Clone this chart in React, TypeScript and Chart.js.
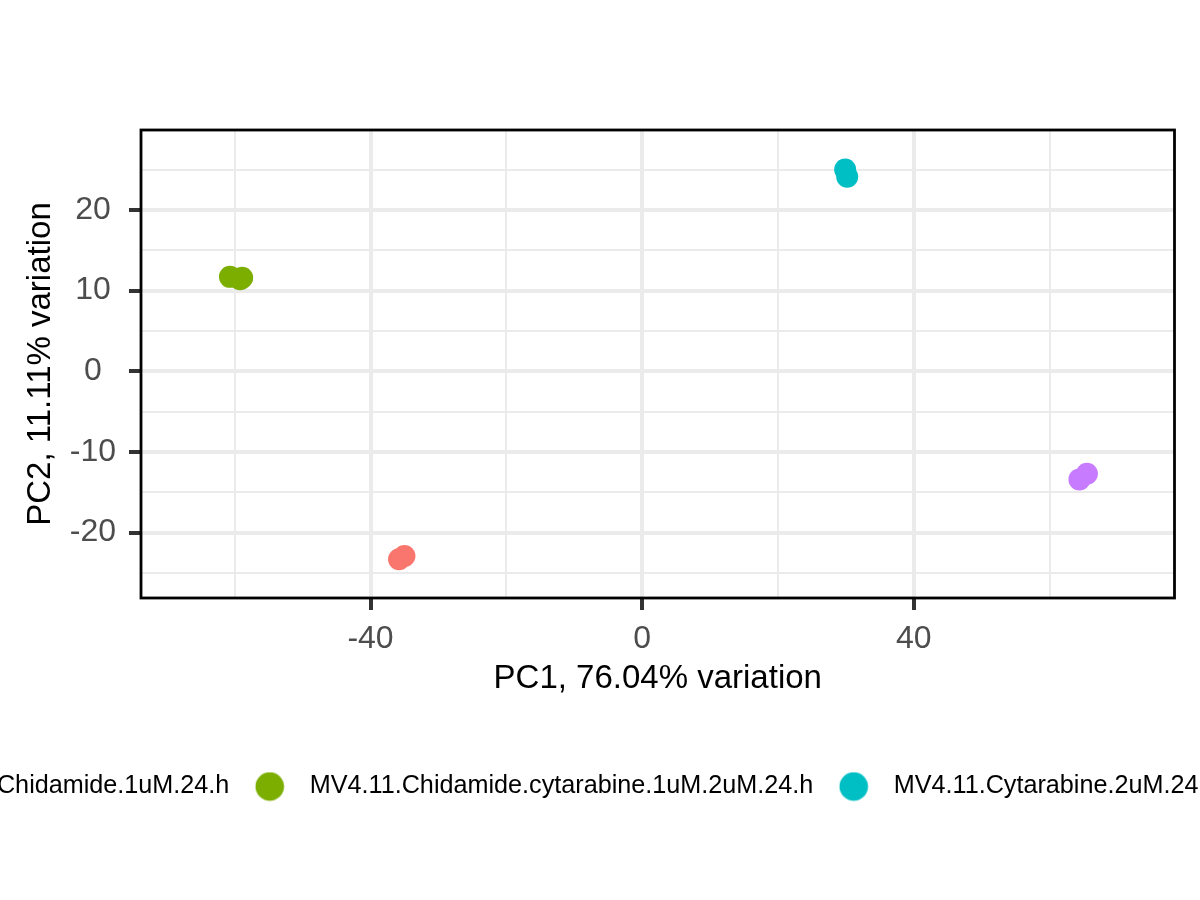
import { useEffect, useRef } from 'react';
import { Chart, registerables } from 'chart.js';

Chart.register(...registerables);

const FONT = "'Liberation Sans', Arial, sans-serif";

// groups (legend order) and ggplot default hues
const groups = [
  'MV4.11.Chidamide.1uM.24.h',
  'MV4.11.Chidamide.cytarabine.1uM.2uM.24.h',
  'MV4.11.Cytarabine.2uM.24.h',
  'MV4.11.DMSO.24.h',
];
const colors = ['#F8766D', '#7CAE00', '#00BFC4', '#C77CFF'];

// PC1 / PC2 scores per sample
const chidamidePC1 = [-35.8, -35.0];
const chidamidePC2 = [-23.3, -22.9];
const comboPC1 = [-60.7, -59.2, -58.9];
const comboPC2 = [11.7, 11.4, 11.6];
const cytarabinePC1 = [29.9, 30.2];
const cytarabinePC2 = [25.0, 24.1];
const dmsoPC1 = [64.4, 65.5];
const dmsoPC2 = [-13.4, -12.7];

const xTitle = 'PC1, 76.04% variation';
const yTitle = 'PC2, 11.11% variation';
const xRange = [-73.8, 78.4];
const yRange = [-28.1, 29.9];

const pcs = [
  [chidamidePC1, chidamidePC2],
  [comboPC1, comboPC2],
  [cytarabinePC1, cytarabinePC2],
  [dmsoPC1, dmsoPC2],
];

// canvas is wider than the page so the legend runs off both edges like the original
const SHIFT = 200;
const WIDTH = 1825;
const HEIGHT = 900;

function legendDot(color: string) {
  const c = document.createElement('canvas');
  c.width = 30;
  c.height = 30;
  const g = c.getContext('2d')!;
  g.fillStyle = color;
  g.beginPath();
  g.arc(15, 15, 14.3, 0, Math.PI * 2);
  g.fill();
  return c;
}

const framePlugin = {
  id: 'frame',
  afterDraw(chart: Chart) {
    const { ctx, chartArea: a } = chart;
    ctx.save();
    ctx.strokeStyle = '#000000';
    ctx.lineWidth = 2.8;
    ctx.strokeRect(a.left, a.top, a.right - a.left, a.bottom - a.top);
    ctx.restore();
  },
};

export default function App() {
  const canvasRef = useRef<HTMLCanvasElement>(null);

  useEffect(() => {
    if (!canvasRef.current) return;
    const isMajorX = (v: number) => v % 40 === 0;
    const isMajorY = (v: number) => v % 10 === 0;

    const chart = new Chart(canvasRef.current, {
      type: 'scatter',
      data: {
        datasets: groups.map((label, i) => ({
          label,
          data: pcs[i][0].map((x, j) => ({ x, y: pcs[i][1][j] })),
          backgroundColor: colors[i],
          borderColor: colors[i],
          borderWidth: 0,
          pointRadius: 11,
          pointHoverRadius: 11,
          pointStyle: 'circle',
        })),
      },
      options: {
        responsive: false,
        animation: false,
        layout: { padding: { left: SHIFT - 175.4, right: 0, top: 130, bottom: 90.9 } },
        plugins: {
          tooltip: { enabled: false },
          legend: {
            position: 'bottom',
            align: 'start',
            labels: {
              usePointStyle: true,
              pointStyleWidth: 54.8,
              boxHeight: 25.2,
              padding: 13,
              color: '#000000',
              font: { family: FONT, size: 25.2 },
              generateLabels: (c: Chart) =>
                Chart.defaults.plugins.legend.labels
                  .generateLabels(c)
                  .map((item, i) => ({ ...item, pointStyle: legendDot(colors[i]) as any })),
            },
          },
        },
        scales: {
          x: {
            type: 'linear',
            position: 'bottom',
            min: xRange[0],
            max: xRange[1],
            afterFit: (s) => {
              s.height = 162.9;
            },
            border: { display: false },
            grid: {
              color: '#EBEBEB',
              lineWidth: (c) => (isMajorX(c.tick?.value ?? 1) ? 4 : 2),
              tickColor: (c) => (isMajorX(c.tick?.value ?? 1) ? '#333333' : 'rgba(0,0,0,0)'),
              tickWidth: 4,
              tickLength: 12,
            },
            ticks: {
              stepSize: 20,
              includeBounds: false,
              autoSkip: false,
              maxRotation: 0,
              padding: 9.5,
              color: '#4D4D4D',
              font: { family: FONT, size: 32 },
              callback: (v) => (isMajorX(Number(v)) ? String(v) : ''),
            },
            title: {
              display: true,
              text: xTitle,
              color: '#000000',
              font: { family: FONT, size: 33 },
              padding: { top: 0, bottom: 62.4 },
            },
          },
          y: {
            type: 'linear',
            position: 'left',
            min: yRange[0],
            max: yRange[1],
            afterFit: (s) => {
              s.width = 316.4;
            },
            border: { display: false },
            grid: {
              color: '#EBEBEB',
              lineWidth: (c) => (isMajorY(c.tick?.value ?? 1) ? 4 : 2),
              tickColor: (c) => (isMajorY(c.tick?.value ?? 1) ? '#333333' : 'rgba(0,0,0,0)'),
              tickWidth: 4,
              tickLength: 12,
            },
            ticks: {
              stepSize: 5,
              includeBounds: false,
              autoSkip: false,
              crossAlign: 'center',
              padding: 12.9,
              color: '#4D4D4D',
              font: { family: FONT, size: 32 },
              callback: (v) => (isMajorY(Number(v)) ? String(v) : ''),
            },
            title: {
              display: true,
              text: yTitle,
              color: '#000000',
              font: { family: FONT, size: 33 },
              padding: { top: 197, bottom: 0 },
            },
          },
          // empty spacer on the right, keeps the legend row wide enough
          spacer: {
            type: 'linear',
            position: 'right',
            display: true,
            afterFit: (s) => {
              s.width = 450.5;
            },
            border: { display: false },
            grid: { display: false },
            ticks: { display: false },
          },
        },
      },
      plugins: [framePlugin],
    });

    return () => {
      chart.destroy();
    };
  }, []);

  return (
    <div style={{ position: 'absolute', left: 0, top: 0, width: 1200, height: HEIGHT, overflow: 'hidden', background: '#ffffff' }}>
      <canvas
        ref={canvasRef}
        width={WIDTH}
        height={HEIGHT}
        style={{ position: 'absolute', left: -SHIFT, top: 0 }}
      />
    </div>
  );
}
